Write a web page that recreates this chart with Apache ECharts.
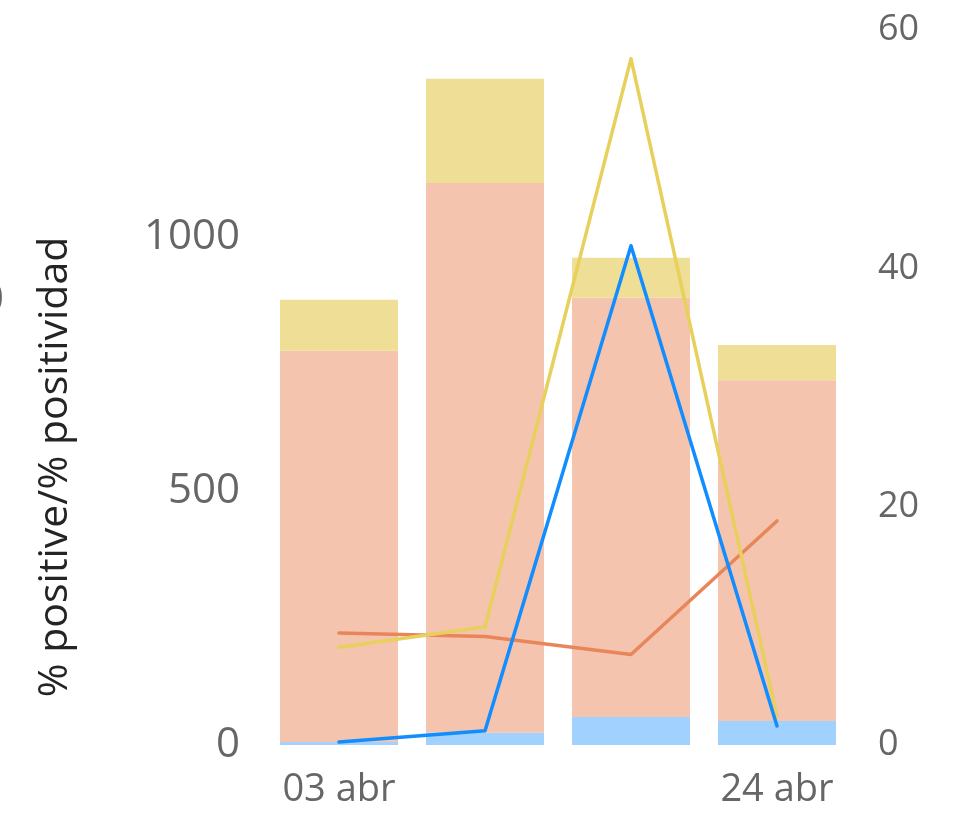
<!DOCTYPE html>
<html>
<head>
<meta charset="utf-8">
<script src="https://cdn.jsdelivr.net/npm/echarts@6/dist/echarts.min.js"></script>
<style>
  html, body { margin: 0; padding: 0; background: #fff; }
  #chart { width: 955px; height: 823px; }
</style>
</head>
<body>
<div id="chart"></div>
<script>
const weeks = ['03 abr', '10 abr', '17 abr', '24 abr']
const blueBars = [6, 24, 55, 47]
const salmonBars = [770, 1082, 825, 671]
const yellowBars = [100, 205, 79, 69]
const orangeLine = [9.4, 9.1, 7.6, 18.8]
const yellowLine = [8.2, 9.9, 57.6, 2.4]
const blueLine = [0.25, 1.2, 41.9, 1.6]
const leftTicks = { min: 0, max: 1407, interval: 500 }
const rightTicks = { min: 0, max: 60, interval: 20 }

const font = '"Open Sans", "Noto Sans", sans-serif'
const chart = echarts.init(document.getElementById('chart'))

const barSeries = (name, data, color) => ({
  name,
  type: 'bar',
  stack: 'total',
  data,
  barWidth: 118,
  itemStyle: { color },
  silent: true,
})

const lineSeries = (name, data, color, z) => ({
  name,
  type: 'line',
  yAxisIndex: 1,
  data,
  symbol: 'none',
  z,
  lineStyle: { color, width: 3.5, cap: 'round', join: 'round' },
  silent: true,
})

chart.setOption({
  animation: false,
  grid: { left: 266, right: 105, top: 30, bottom: 78 },
  xAxis: {
    type: 'category',
    data: weeks,
    axisLine: { show: false },
    axisTick: { show: false },
    axisLabel: {
      color: '#666',
      fontSize: 38,
      fontFamily: font,
      margin: 26,
      interval: (i) => i === 0 || i === weeks.length - 1,
    },
  },
  yAxis: [
    {
      type: 'value',
      ...leftTicks,
      splitLine: { show: false },
      axisLine: { show: false },
      axisTick: { show: false },
      axisLabel: {
        color: '#666',
        fontSize: 42,
        fontFamily: font,
        margin: 26,
        showMaxLabel: false,
        formatter: (v) => String(v),
      },
    },
    {
      type: 'value',
      ...rightTicks,
      splitLine: { show: false },
      axisLine: { show: false },
      axisTick: { show: false },
      axisLabel: { color: '#666', fontSize: 36, fontFamily: font, margin: 28 },
    },
  ],
  graphic: [
    {
      type: 'text',
      x: 55,
      y: 467,
      rotation: Math.PI / 2,
      style: {
        text: '% positive/% positividad',
        fill: '#252423',
        font: '41px ' + font,
        align: 'center',
        verticalAlign: 'middle',
      },
    },
    {
      type: 'text',
      x: -20,
      y: 300,
      style: {
        text: '0',
        fill: '#666',
        font: '42px ' + font,
        verticalAlign: 'middle',
      },
    },
  ],
  series: [
    barSeries('blue', blueBars, '#A0D1FF'),
    barSeries('salmon', salmonBars, '#F4C4AE'),
    barSeries('yellow', yellowBars, '#EFDE96'),
    lineSeries('orange', orangeLine, '#E8865A', 3),
    lineSeries('yellowLine', yellowLine, '#E8D05C', 4),
    lineSeries('blueLine', blueLine, '#118DFF', 5),
  ],
})
</script>
</body>
</html>
